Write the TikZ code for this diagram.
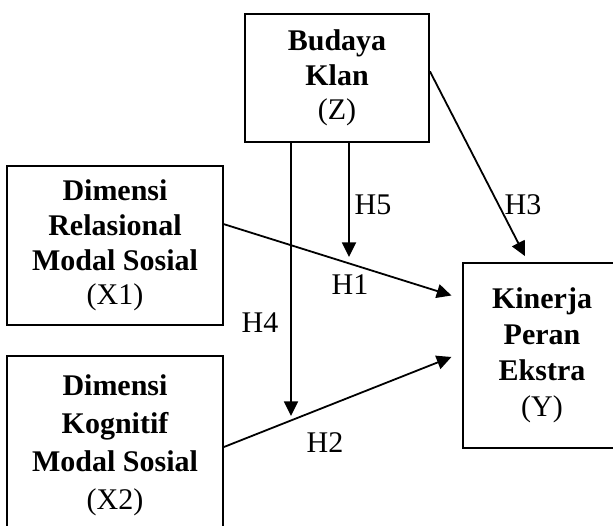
\documentclass[tikz,border=0pt]{standalone}
\usepackage{fontspec}
\setmainfont{Liberation Serif}
\usetikzlibrary{arrows.meta}

\begin{document}
\begin{tikzpicture}[x=0.75pt,y=-0.75pt,
    varbox/.style={draw,line width=1.35pt,align=center,inner sep=0pt,font=\bfseries\fontsize{22.5}{26}\selectfont},
    hlabel/.style={inner sep=0pt,font=\fontsize{22.5}{26}\selectfont},
    link/.style={line width=1.35pt,-{Triangle[length=11pt,width=10.5pt]}}]
      \useasboundingbox (0,0) rectangle (613,525);
      \clip (0,0) rectangle (613,525);
      \node[varbox,minimum width=138pt,minimum height=96pt] (z) at (337,78) {Budaya\\Klan\\\textmd{(Z)}};
      \node[varbox,minimum width=162pt,minimum height=119.25pt] (x1) at (115,245.5) {Dimensi\\Relasional\\Modal Sosial\\\textmd{(X1)}};
      \node[varbox,minimum width=162pt,minimum height=133.5pt,font=\bfseries\fontsize{22.5}{28.5}\selectfont] (x2) at (115,445) {Dimensi\\Kognitif\\Modal Sosial\\\textmd{(X2)}};
      \node[varbox,minimum width=118.5pt,minimum height=138.75pt,font=\bfseries\fontsize{22.5}{27}\selectfont] (y) at (542,355.5) {Kinerja\\Peran\\Ekstra\\\textmd{(Y)}};
      \coordinate (m1) at (349,257);
      \coordinate (m2) at (291,416);
      \draw[link] ([yshift=16pt]x1.east) -- ([xshift=-8pt,yshift=45pt]y.west);
      \draw[link] ([yshift=-1.5pt]x2.east) -- ([xshift=-8pt,yshift=-1.1pt]y.west);
      \draw[link] ([yshift=5pt]z.east) -- ([xshift=-12.75pt,yshift=4.5pt]y.north);
      \draw[link] (z.south -| m1) -- (m1);
      \draw[link] (z.south -| m2) -- (m2);
      \node[hlabel] (h1) at (350,285) {H1};
      \node[hlabel] (h2) at (325,443) {H2};
      \node[hlabel] (h3) at (523,205) {H3};
      \node[hlabel] (h4) at (260,323) {H4};
      \node[hlabel] (h5) at (373,205) {H5};
    \end{tikzpicture}
\end{document}
